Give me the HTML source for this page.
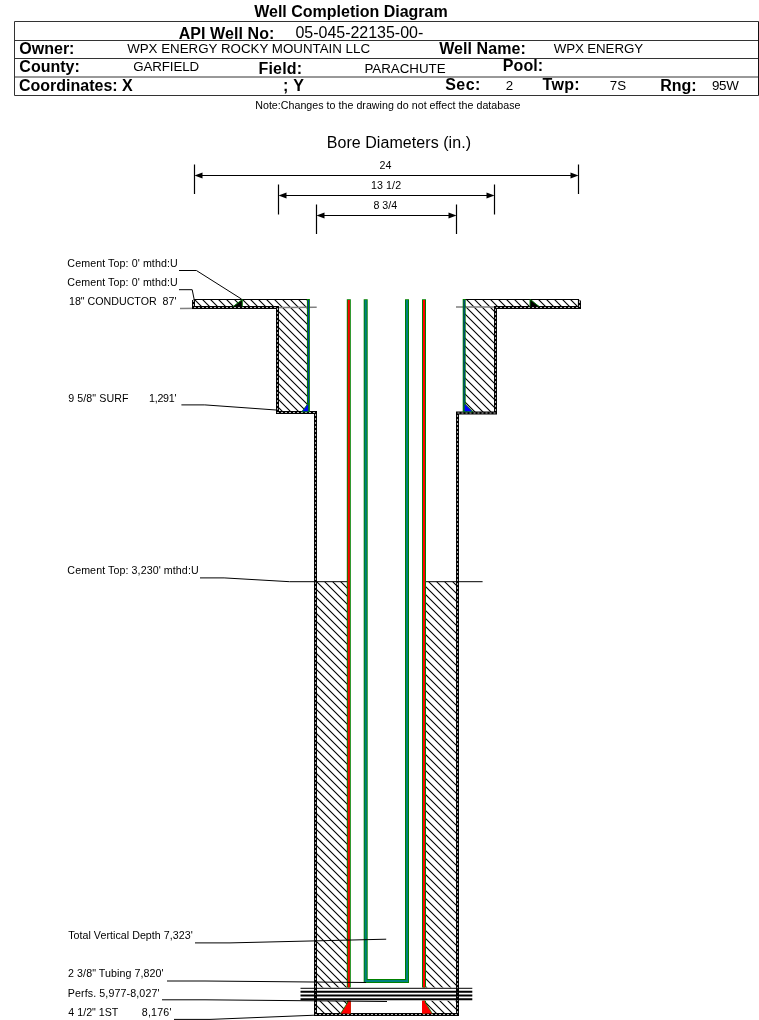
<!DOCTYPE html>
<html><head><meta charset="utf-8"><style>
html,body{margin:0;padding:0;background:#fff;width:759px;height:1020px;overflow:hidden}
svg{display:block;position:absolute;left:0;top:0;will-change:transform}
text{font-family:"Liberation Sans",sans-serif;fill:#000}
</style></head><body>
<svg width="759" height="1020" viewBox="0 0 759 1020">
<defs>
<pattern id="h" patternUnits="userSpaceOnUse" x="-1" y="0" width="8" height="8">
<path d="M-2,-2 L10,10 M-2,6 L2,10 M6,-2 L10,2" stroke="#000" stroke-width="1.1" fill="none"/>
</pattern>
</defs>
<g fill="none" stroke="#333" stroke-width="1">
<path d="M14.5,21.5H758.5M14.5,95.5H758.5M14.5,21.5V95.5"/>
<path d="M14.5,40.5H758.5M14.5,58.5H758.5M14.5,77H758.5"/>
<path d="M758.5,21.5V95.5" stroke="#111"/>
</g>
<!-- dimension lines -->
<g stroke="#000" stroke-width="1.2" fill="none">
<path d="M194.5,164.5V194M578.5,164.5V194M200,175.5H572"/>
<path d="M278.5,184.5V214.5M494.5,184.5V214.5M284,195.5H489"/>
<path d="M316.5,204.5V234M456.5,204.5V234M322,215.5H451"/>
</g>
<g fill="#000">
<path d="M194.5,175.5l8,-3v6z M578.5,175.5l-8,-3v6z"/>
<path d="M278.5,195.5l8,-3v6z M494.5,195.5l-8,-3v6z"/>
<path d="M316.5,215.5l8,-3v6z M456.5,215.5l-8,-3v6z"/>
</g>
<!-- cement hatches -->
<g fill="url(#h)" stroke="none">
<path d="M193.5,299.5H308.4V412H277.5V307.4H193.5Z"/>
<path d="M579,299.5H464.2V412.5H495.5V307.5H579Z"/>
<path d="M315.5,581.7H347V987.5H315.5Z M315.5,1000.8H347V1014H315.5Z"/>
<path d="M426,581.7H457.4V987.5H426Z M426,1000.8H457.4V1014H426Z"/>
</g>
<!-- top line of conductor band -->
<path d="M193.5,299.5H308M464,299.5H578.5V307" stroke="#000" stroke-width="1.2" fill="none"/>
<!-- grey conductor leader -->
<path d="M180,308.4L316.7,307.2M456,307H495" stroke="#808080" stroke-width="1.5" fill="none"/>
<!-- hole boundary dashed -->
<g fill="none" stroke-linejoin="miter">
<path d="M193.5,300V307.5H277.5V412.5H315.5V1014.5H457.5V413H495.5V307.5H579.5V300.5" stroke="#000" stroke-width="3"/>
<path d="M193.5,300V307.5H277.5V412.5H315.5V1014.5H457.5V413H495.5V307.5H579.5V300.5" stroke="#fff" stroke-opacity="0.7" stroke-width="1.1" stroke-dasharray="2 2"/>
</g>
<!-- surface casing -->
<g fill="none">
<path d="M308.4,299V412M464.2,299V412" stroke="#008000" stroke-width="3"/>
<path d="M308.4,300V412M464.2,300V412" stroke="#0033aa" stroke-width="1"/>
</g>
<!-- triangles -->
<path d="M233,306.6L242.3,299.5V306.6Z M530,299.5V306.6H539.3Z" fill="#000"/>
<path d="M233,306.6L242.3,299.5V306.6 M539.3,306.6L530,299.5V306.6" fill="none" stroke="#008000" stroke-width="0.9"/>
<path d="M301.7,411.8L308.4,403V411.8Z M464.2,403V411.8H473Z" fill="#0000ff" stroke="#008000" stroke-width="0.8"/>
<!-- production casing -->
<g fill="none">
<path d="M348.8,299.2V987.5M348.8,1000.8V1013.5M424,299.2V987.5M424,1000.8V1013.5" stroke="#008000" stroke-width="4"/>
<path d="M348.8,300V987.5M348.8,1000.8V1013.5M424,300V987.5M424,1000.8V1013.5" stroke="#ff0000" stroke-width="2"/>
</g>
<path d="M340.6,1013.5L348,1002V1000.8H350.8V1013.5Z M432.3,1013.5L425,1002V1000.8H422V1013.5Z" fill="#ff0000" stroke="none"/>
<path d="M340.6,1013.5L348,1002 M432.3,1013.5L425,1002" stroke="#008000" stroke-width="0.8" fill="none"/>
<!-- tubing -->
<g fill="none" stroke-linejoin="miter">
<path d="M365.7,299.2V981H407V299.2" stroke="#008000" stroke-width="4"/>
<path d="M365.7,300V981H407V300" stroke="#008080" stroke-width="2"/>
</g>
<!-- leaders -->
<g fill="none" stroke="#000" stroke-width="1">
<path d="M179,270.5H196.4L241.6,299.1"/>
<path d="M179,289.7H192.2L194.1,299.1"/>
<path d="M181.4,404.9H204.8L277.5,410.1"/>
<path d="M200,577.9H224.1L289.6,581.7H347M426,581.7H482.6"/>
<path d="M195,942.9H230L386.2,939.2"/>
<path d="M167,981H205L366,982.5"/>
<path d="M162,999.8H205L387,1001.5"/>
<path d="M174,1019.4H210L315,1015.2"/>
</g>
<!-- perfs -->
<g fill="none" stroke="#000">
<path d="M300.5,988.3H472.3" stroke-width="1"/>
<path d="M300.5,991.8H472.3M300.5,995.5H472.3M300.5,999.3H472.3" stroke-width="2"/>
</g>

<text x="254.18" y="16.90" font-size="16" font-weight="bold">Well Completion Diagram</text>
<text x="178.70" y="38.60" font-size="16" font-weight="bold" textLength="95.64" lengthAdjust="spacing">API Well No:</text>
<text x="295.48" y="38.20" font-size="16" textLength="127.74" lengthAdjust="spacing">05-045-22135-00-</text>
<text x="19.34" y="53.50" font-size="16" font-weight="bold">Owner:</text>
<text x="127.14" y="52.90" font-size="13.33">WPX ENERGY ROCKY MOUNTAIN LLC</text>
<text x="439.18" y="53.50" font-size="16" font-weight="bold" textLength="86.55" lengthAdjust="spacing">Well Name:</text>
<text x="553.64" y="52.90" font-size="13.33" textLength="89.45" lengthAdjust="spacing">WPX ENERGY</text>
<text x="19.34" y="71.80" font-size="16" font-weight="bold">County:</text>
<text x="133.23" y="71.30" font-size="13.33" textLength="65.91" lengthAdjust="spacing">GARFIELD</text>
<text x="258.53" y="73.50" font-size="16" font-weight="bold" textLength="43.51" lengthAdjust="spacing">Field:</text>
<text x="364.41" y="73.40" font-size="13.33">PARACHUTE</text>
<text x="502.83" y="71.30" font-size="16" font-weight="bold" textLength="40.31" lengthAdjust="spacing">Pool:</text>
<text x="18.99" y="90.60" font-size="16" font-weight="bold">Coordinates: X</text>
<text x="282.98" y="90.80" font-size="16" font-weight="bold" textLength="20.88" lengthAdjust="spacing">; Y</text>
<text x="445.34" y="90.30" font-size="16" font-weight="bold" textLength="34.90" lengthAdjust="spacing">Sec:</text>
<text x="505.73" y="90.30" font-size="13.33">2</text>
<text x="542.62" y="90.30" font-size="16" font-weight="bold" textLength="37.02" lengthAdjust="spacing">Twp:</text>
<text x="609.82" y="90.30" font-size="13.33">7S</text>
<text x="660.13" y="90.80" font-size="16" font-weight="bold">Rng:</text>
<text x="712.08" y="90.30" font-size="13.33" textLength="26.67" lengthAdjust="spacing">95W</text>
<text x="255.22" y="109.30" font-size="10.67" textLength="265.25" lengthAdjust="spacing">Note:Changes to the drawing do not effect the database</text>
<text x="326.69" y="147.80" font-size="16" textLength="144.30" lengthAdjust="spacing">Bore Diameters (in.)</text>
<text x="379.46" y="169.10" font-size="10.67">24</text>
<text x="370.89" y="189.00" font-size="10.67" textLength="30.25" lengthAdjust="spacing">13 1/2</text>
<text x="373.44" y="209.00" font-size="10.67">8 3/4</text>
<text x="67.36" y="267.00" font-size="10.67" textLength="110.37" lengthAdjust="spacing">Cement Top: 0' mthd:U</text>
<text x="67.36" y="285.90" font-size="10.67" textLength="110.37" lengthAdjust="spacing">Cement Top: 0' mthd:U</text>
<text x="68.99" y="305.30" font-size="10.67" textLength="107.45" lengthAdjust="spacing">18&quot; CONDUCTOR  87'</text>
<text x="68.30" y="401.80" font-size="10.67" textLength="60.13" lengthAdjust="spacing">9 5/8&quot; SURF</text>
<text x="148.99" y="401.80" font-size="10.67" textLength="27.55" lengthAdjust="spacing">1,291'</text>
<text x="67.36" y="574.10" font-size="10.67" textLength="131.27" lengthAdjust="spacing">Cement Top: 3,230' mthd:U</text>
<text x="68.16" y="939.00" font-size="10.67" textLength="124.58" lengthAdjust="spacing">Total Vertical Depth 7,323'</text>
<text x="68.06" y="977.10" font-size="10.67" textLength="95.57" lengthAdjust="spacing">2 3/8&quot; Tubing 7,820'</text>
<text x="67.72" y="996.60" font-size="10.67" textLength="91.81" lengthAdjust="spacing">Perfs. 5,977-8,027'</text>
<text x="68.36" y="1015.90" font-size="10.67">4 1/2&quot; 1ST</text>
<text x="141.84" y="1015.90" font-size="10.67" textLength="29.70" lengthAdjust="spacing">8,176'</text>
</svg>
</body></html>
